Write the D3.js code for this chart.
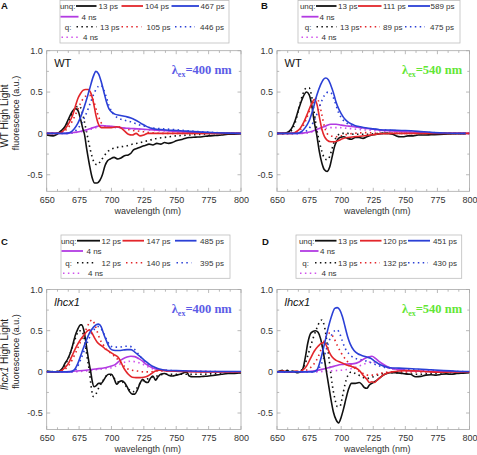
<!DOCTYPE html>
<html><head><meta charset="utf-8">
<script src="https://cdn.jsdelivr.net/npm/d3@7"></script>
<style>body{margin:0;background:#fff}svg{display:block}</style>
</head><body>
<svg id="c" width="477" height="455"></svg>
<script>
// ---------------- DATA ----------------
const xTicks = [650, 675, 700, 725, 750, 775, 800];
const yTicks = [-0.5, 0, 0.5, 1.0];
const panelIds = ["A", "B", "C", "D"];
const A_unq_labels = ["13 ps", "104 ps", "467 ps", "4 ns"];
const A_q_labels = ["13 ps", "105 ps", "446 ps", "4 ns"];
const B_unq_labels = ["13 ps", "111 ps", "589 ps", "4 ns"];
const B_q_labels = ["13 ps", "89 ps", "475 ps", "4 ns"];
const C_unq_labels = ["12 ps", "147 ps", "485 ps", "4 ns"];
const C_q_labels = ["12 ps", "140 ps", "395 ps", "4 ns"];
const D_unq_labels = ["13 ps", "120 ps", "451 ps", "4 ns"];
const D_q_labels = ["13 ps", "132 ps", "430 ps", "4 ns"];

// Panel A (WT, 400 nm)
const A_unq_13 = [[650,-0.02],[655,-0.03],[658,-0.01],[661,0.03],[664,0.08],[667,0.18],[670,0.27],[672,0.30],[674,0.28],[676,0.18],[678,0.05],[679,0],[681,-0.2],[683,-0.38],[685,-0.53],[687,-0.6],[689,-0.6],[691,-0.57],[693,-0.5],[695,-0.39],[697,-0.33],[699,-0.31],[702,-0.29],[705,-0.31],[707,-0.3],[710,-0.27],[713,-0.26],[715,-0.24],[717,-0.2],[720,-0.18],[723,-0.16],[726,-0.145],[729,-0.13],[732,-0.14],[735,-0.12],[738,-0.13],[741,-0.11],[744,-0.12],[747,-0.11],[750,-0.09],[755,-0.07],[760,-0.05],[765,-0.045],[770,-0.04],[775,-0.03],[780,-0.025],[785,-0.02],[790,-0.01],[795,-0.01],[800,-0.005]];
const A_q_13 = [[650,0],[660,0.01],[664,0.05],[667,0.14],[670,0.25],[673,0.32],[675,0.33],[677,0.28],[679,0.15],[681,0.0],[683,-0.15],[685,-0.28],[687,-0.36],[689,-0.38],[691,-0.35],[694,-0.28],[697,-0.22],[700,-0.19],[704,-0.17],[708,-0.16],[712,-0.15],[716,-0.13],[720,-0.12],[725,-0.1],[730,-0.08],[735,-0.06],[740,-0.05],[750,-0.03],[760,-0.02],[770,-0.01],[785,0],[800,0]];
const A_unq_104 = [[650,0],[658,0],[661,0.01],[664,0.05],[667,0.12],[670,0.22],[672,0.32],[674,0.42],[676,0.48],[678,0.52],[680,0.53],[682,0.53],[684,0.49],[686,0.38],[688,0.22],[690,0.11],[692,0.07],[695,0.07],[700,0.07],[704,0.08],[707,0.07],[710,0.03],[713,-0.01],[716,-0.02],[719,0.0],[722,-0.03],[725,-0.02],[728,0.0],[732,0.0],[740,0.0],[760,0],[800,0]];
const A_q_105 = [[650,0],[660,0],[664,0.03],[668,0.1],[672,0.22],[676,0.36],[680,0.45],[683,0.46],[686,0.4],[689,0.25],[692,0.13],[695,0.09],[700,0.08],[705,0.08],[710,0.06],[715,0.04],[720,0.03],[725,0.02],[730,0.01],[740,0.0],[800,0]];
const A_unq_467 = [[650,0],[665,0],[668,0.01],[671,0.05],[674,0.12],[677,0.23],[680,0.37],[683,0.53],[686,0.69],[688,0.75],[690,0.72],[692,0.63],[694,0.51],[696,0.39],[698,0.3],[700,0.26],[703,0.23],[706,0.22],[709,0.21],[712,0.2],[715,0.185],[718,0.165],[721,0.14],[724,0.11],[727,0.085],[730,0.065],[735,0.05],[740,0.045],[745,0.038],[750,0.035],[755,0.03],[760,0.025],[770,0.015],[780,0.008],[790,0.003],[800,0]];
const A_q_446 = [[650,0],[668,0],[672,0.03],[676,0.1],[680,0.22],[684,0.38],[687,0.5],[690,0.57],[692,0.58],[694,0.53],[696,0.44],[698,0.34],[700,0.27],[703,0.21],[706,0.18],[710,0.16],[715,0.14],[720,0.11],[725,0.09],[730,0.07],[740,0.055],[750,0.045],[760,0.03],[770,0.02],[780,0.01],[800,0]];
const A_unq_4ns = [[650,0],[665,0],[670,0.01],[675,0.02],[680,0.04],[684,0.06],[688,0.08],[692,0.095],[696,0.09],[700,0.085],[705,0.075],[710,0.065],[715,0.06],[720,0.055],[725,0.05],[730,0.045],[735,0.04],[740,0.035],[745,0.03],[750,0.025],[760,0.015],[770,0.01],[780,0.005],[800,0]];
const A_q_4ns = [[650,0],[670,0.01],[680,0.03],[686,0.06],[692,0.08],[700,0.075],[710,0.06],[720,0.05],[730,0.04],[740,0.03],[750,0.02],[760,0.012],[775,0.005],[800,0]];

// Panel B (WT, 540 nm)
const B_unq_13 = [[650,0],[655,0],[658,0.01],[661,0.05],[664,0.15],[667,0.3],[670,0.43],[673,0.5],[675,0.47],[677,0.35],[679,0.14],[681,-0.02],[683,-0.22],[685,-0.36],[687,-0.44],[689,-0.46],[691,-0.41],[693,-0.28],[695,-0.15],[697,-0.08],[699,-0.05],[702,-0.04],[705,-0.06],[708,-0.07],[711,-0.05],[714,-0.05],[717,-0.06],[720,-0.04],[724,-0.02],[728,-0.01],[732,0.0],[736,0.0],[740,-0.01],[743,-0.03],[746,-0.04],[749,-0.04],[752,-0.03],[756,-0.03],[760,-0.02],[765,-0.02],[770,-0.015],[780,-0.01],[790,-0.005],[797,-0.005]];
const B_q_13 = [[650,0],[658,0],[661,0.03],[664,0.12],[667,0.3],[670,0.47],[673,0.55],[675,0.55],[677,0.45],[679,0.25],[681,0.05],[683,-0.1],[685,-0.22],[687,-0.3],[689,-0.32],[691,-0.28],[693,-0.18],[695,-0.08],[697,-0.03],[700,0.0],[705,0.0],[710,-0.01],[720,-0.01],[730,0],[800,0]];
const B_unq_111 = [[650,0],[662,0],[665,0.02],[668,0.06],[671,0.14],[674,0.25],[677,0.36],[679,0.41],[681,0.36],[683,0.2],[685,0.05],[687,-0.04],[689,-0.08],[692,-0.1],[695,-0.1],[698,-0.085],[701,-0.065],[705,-0.05],[710,-0.04],[715,-0.035],[720,-0.025],[725,-0.015],[730,-0.005],[740,0],[800,0]];
const B_q_89 = [[650,0],[664,0],[667,0.03],[670,0.08],[673,0.18],[676,0.3],[679,0.4],[681,0.43],[683,0.36],[685,0.22],[687,0.08],[689,0.0],[692,-0.03],[696,-0.04],[700,-0.03],[705,-0.01],[710,0.0],[720,0.01],[730,0.0],[800,0]];
const B_unq_589 = [[650,0],[666,0],[669,0.02],[672,0.07],[675,0.15],[678,0.29],[681,0.46],[684,0.59],[686,0.65],[688,0.67],[690,0.65],[692,0.58],[694,0.49],[696,0.38],[698,0.3],[700,0.24],[703,0.17],[706,0.13],[710,0.1],[715,0.08],[720,0.065],[725,0.055],[730,0.045],[740,0.04],[750,0.035],[760,0.025],[770,0.012],[780,0.005],[797,0]];
const B_q_475 = [[650,0],[668,0],[672,0.02],[676,0.08],[680,0.19],[684,0.36],[687,0.46],[690,0.5],[692,0.49],[694,0.43],[696,0.34],[698,0.25],[700,0.19],[703,0.14],[706,0.11],[710,0.09],[715,0.07],[720,0.06],[730,0.045],[740,0.035],[750,0.025],[760,0.015],[770,0.01],[785,0.005],[800,0]];
const B_unq_4ns = [[650,0],[668,0],[673,0.01],[678,0.03],[683,0.06],[688,0.09],[692,0.11],[696,0.11],[700,0.1],[705,0.09],[710,0.08],[715,0.07],[720,0.06],[725,0.05],[730,0.04],[740,0.03],[750,0.02],[760,0.012],[770,0.006],[785,0.002],[800,0]];
const B_q_4ns = [[650,0],[670,0],[678,0.02],[685,0.05],[692,0.07],[698,0.07],[705,0.06],[712,0.05],[720,0.04],[730,0.03],[740,0.02],[755,0.01],[770,0.005],[800,0]];

// Panel C (lhcx1, 400 nm)
const C_unq_12 = [[650,0.01],[655,0.0],[658,0.0],[660,0.01],[662,0.04],[664,0.1],[666,0.15],[668,0.22],[670,0.32],[672,0.44],[674,0.52],[676,0.57],[677,0.57],[679,0.48],[681,0.28],[683,0.08],[684,0.0],[685,-0.1],[686.5,-0.18],[688,-0.17],[690,-0.14],[692,-0.14],[694,-0.1],[696,-0.05],[698,-0.03],[700,-0.03],[702,-0.08],[704,-0.15],[706,-0.12],[708,-0.11],[710,-0.13],[712,-0.18],[714,-0.24],[716,-0.27],[718,-0.27],[720,-0.22],[722,-0.14],[724,-0.09],[726,-0.12],[728,-0.13],[730,-0.08],[732,-0.05],[734,-0.1],[736,-0.06],[738,-0.03],[741,-0.02],[744,-0.04],[747,-0.05],[750,-0.04],[753,-0.03],[756,-0.01],[758,0.0],[760,-0.05],[763,-0.06],[767,-0.06],[771,-0.055],[775,-0.05],[780,-0.04],[785,-0.03],[790,-0.02],[795,-0.02],[800,-0.01]];
const C_q_12 = [[650,0],[660,0.01],[663,0.05],[666,0.14],[669,0.26],[672,0.4],[675,0.5],[677,0.5],[679,0.4],[681,0.2],[683,0.0],[684.5,-0.2],[686,-0.3],[688,-0.27],[690,-0.2],[693,-0.12],[696,-0.05],[699,-0.04],[702,-0.08],[705,-0.12],[708,-0.12],[711,-0.17],[714,-0.22],[717,-0.24],[720,-0.19],[723,-0.12],[726,-0.1],[730,-0.07],[735,-0.05],[740,-0.03],[750,-0.03],[760,-0.03],[770,-0.03],[780,-0.02],[790,-0.01],[800,-0.01]];
const C_unq_147 = [[650,0],[658,0],[661,0.01],[664,0.05],[667,0.11],[670,0.21],[673,0.31],[676,0.39],[679,0.45],[681,0.49],[683,0.51],[685,0.47],[687,0.41],[689,0.36],[691,0.33],[693,0.31],[695,0.28],[697,0.26],[699,0.24],[702,0.21],[705,0.18],[707,0.13],[709,0.06],[711,0.01],[713,-0.03],[716,-0.065],[719,-0.07],[722,-0.07],[725,-0.065],[728,-0.05],[731,-0.02],[734,0.01],[737,0.02],[741,0.015],[746,0.01],[755,0.005],[770,0],[800,0]];
const C_q_140 = [[650,0],[660,0],[664,0.03],[668,0.1],[672,0.22],[676,0.36],[680,0.5],[683,0.6],[685,0.63],[687,0.58],[689,0.49],[691,0.4],[694,0.32],[697,0.26],[700,0.22],[703,0.18],[706,0.13],[709,0.08],[712,0.04],[716,0.02],[720,0.01],[725,0.0],[730,0.0],[735,0.01],[745,0.01],[760,0.005],[800,0]];
const C_unq_485 = [[650,0],[668,0],[671,0.02],[674,0.1],[677,0.23],[680,0.36],[683,0.47],[686,0.54],[688,0.57],[690,0.58],[692,0.55],[694,0.46],[696,0.38],[698,0.31],[700,0.27],[703,0.26],[706,0.26],[709,0.265],[712,0.27],[715,0.27],[718,0.24],[721,0.2],[724,0.16],[727,0.12],[730,0.085],[733,0.06],[737,0.035],[742,0.02],[750,0.015],[760,0.01],[780,0.005],[800,0.005]];
const C_q_395 = [[650,0],[670,0],[673,0.04],[676,0.14],[680,0.3],[684,0.45],[687,0.52],[690,0.55],[693,0.5],[696,0.4],[699,0.32],[702,0.3],[706,0.3],[710,0.31],[714,0.31],[718,0.27],[722,0.19],[726,0.12],[730,0.07],[735,0.04],[742,0.02],[755,0.01],[800,0]];
const C_unq_4ns = [[650,0],[665,0],[672,0.01],[680,0.02],[688,0.035],[695,0.05],[700,0.07],[703,0.09],[706,0.13],[709,0.16],[712,0.18],[715,0.19],[718,0.185],[721,0.16],[724,0.13],[727,0.09],[730,0.06],[734,0.035],[740,0.02],[750,0.01],[765,0.005],[800,0]];
const C_q_4ns = [[650,0],[670,0],[680,0.01],[690,0.03],[700,0.05],[706,0.09],[711,0.12],[715,0.13],[719,0.12],[723,0.1],[727,0.07],[731,0.04],[737,0.02],[745,0.01],[760,0.005],[800,0]];

// Panel D (lhcx1, 540 nm)
const D_unq_13 = [[650,0.0],[652,0.01],[654,0.02],[656,0.0],[658,0.02],[660,0.0],[662,0.01],[664,0.0],[666,-0.01],[668,0.0],[670,0.03],[672,0.17],[674,0.35],[676,0.46],[678,0.49],[680,0.5],[682,0.48],[684,0.4],[686,0.25],[688,0.05],[690,-0.14],[692,-0.33],[694,-0.49],[696,-0.58],[698,-0.62],[700,-0.55],[702,-0.44],[704,-0.31],[706,-0.2],[708,-0.14],[711,-0.14],[714,-0.13],[716,-0.15],[718,-0.19],[720,-0.2],[722,-0.16],[725,-0.13],[728,-0.1],[731,-0.06],[734,-0.03],[738,-0.01],[742,-0.01],[746,-0.015],[750,-0.025],[754,-0.03],[758,-0.06],[762,-0.055],[766,-0.04],[770,-0.035],[774,-0.04],[778,-0.03],[782,-0.025],[786,-0.03],[790,-0.02],[795,-0.015],[800,-0.01]];
const D_q_13 = [[650,0],[665,0],[669,0.02],[672,0.1],[675,0.25],[678,0.4],[681,0.53],[683,0.6],[685,0.63],[687,0.55],[689,0.35],[691,0.1],[693,-0.15],[695,-0.32],[697,-0.42],[699,-0.42],[701,-0.3],[703,-0.15],[705,-0.05],[708,0.0],[711,-0.02],[715,-0.05],[720,-0.08],[725,-0.06],[730,-0.03],[740,-0.01],[750,-0.02],[760,-0.03],[770,-0.02],[785,-0.01],[800,0]];
const D_unq_120 = [[650,0],[655,0.01],[660,-0.005],[665,0.01],[668,0.0],[670,0.02],[673,0.07],[676,0.16],[679,0.25],[682,0.31],[685,0.35],[687,0.355],[689,0.3],[691,0.23],[693,0.18],[696,0.14],[699,0.12],[702,0.1],[705,0.08],[708,0.065],[711,0.05],[714,0.02],[717,-0.04],[720,-0.09],[722,-0.13],[724,-0.12],[726,-0.13],[728,-0.1],[731,-0.06],[735,-0.02],[740,0],[745,0.01],[750,0.015],[760,0.01],[770,0.0],[780,-0.005],[790,0],[800,0]];
const D_q_132 = [[650,0],[670,0],[674,0.03],[678,0.08],[682,0.18],[685,0.3],[688,0.42],[691,0.47],[694,0.42],[697,0.32],[700,0.23],[704,0.14],[708,0.08],[712,0.03],[716,-0.01],[720,-0.04],[725,-0.04],[730,-0.02],[740,0],[800,0]];
const D_unq_451 = [[650,0],[678,0],[681,0.02],[684,0.15],[687,0.34],[690,0.54],[693,0.7],[695,0.77],[697,0.78],[699,0.75],[701,0.67],[703,0.55],[705,0.43],[707,0.34],[710,0.26],[713,0.22],[716,0.2],[720,0.18],[723,0.165],[726,0.13],[729,0.1],[733,0.07],[738,0.05],[745,0.045],[752,0.04],[760,0.035],[770,0.025],[780,0.015],[790,0.008],[800,0.005]];
const D_q_430 = [[650,0],[680,0],[683,0.05],[686,0.15],[689,0.3],[692,0.43],[695,0.5],[697,0.51],[699,0.46],[701,0.37],[703,0.29],[706,0.22],[710,0.17],[715,0.15],[720,0.13],[725,0.1],[730,0.07],[738,0.045],[750,0.03],[765,0.02],[780,0.01],[800,0]];
const D_unq_4ns = [[650,0],[670,0],[678,0.01],[685,0.03],[690,0.05],[695,0.07],[700,0.09],[705,0.095],[710,0.1],[714,0.12],[718,0.16],[721,0.18],[724,0.19],[727,0.16],[730,0.12],[734,0.08],[738,0.05],[744,0.03],[750,0.02],[760,0.01],[775,0.005],[800,0]];
const D_q_4ns = [[650,0],[680,0],[690,0.01],[700,0.02],[708,0.04],[714,0.07],[719,0.1],[723,0.12],[727,0.11],[731,0.08],[736,0.05],[742,0.03],[750,0.015],[765,0.005],[800,0]];

// ---------------- LAYOUT / STYLE ----------------
const COL = ["#111111", "#e3262b", "#2b40d6", "#b23be2"];
const QCOL = ["#111111", "#e3262b", "#2b40d6", "#d052ec"];
const panels = [
  {id:"A", l:46.7, r:241, t:50.7, b:191.3, unq:[A_unq_13,A_unq_104,A_unq_467,A_unq_4ns], q:[A_q_13,A_q_105,A_q_446,A_q_4ns],
   unqL:A_unq_labels, qL:A_q_labels, strain:"WT", exc:"400", excCol:"#5c5ce6", ylab:true, lab:[1,9],
   box:[60,0.5,229,43], rows:[6,16.7,26.7,37.3], qX:71.5,
   r1:[[76,96.5,98.5],[121.5,143,145],[171.5,199,200.5]], r2:[60.5,78.5,81.5], r3:[[76.5,96.5,100],[121.5,141.5,146.5],[175,195,200]], r4:[61.5,78.5,83]},
  {id:"B", l:277, r:469.5, t:50.7, b:191.3, unq:[B_unq_13,B_unq_111,B_unq_589,B_unq_4ns], q:[B_q_13,B_q_89,B_q_475,B_q_4ns],
   unqL:B_unq_labels, qL:B_q_labels, strain:"WT", exc:"540", excCol:"#62e635", ylab:false, lab:[261,9],
   box:[298,0.5,460,43], rows:[6,16.7,26.7,37.3], qX:311.5,
   r1:[[316,336.5,338],[358,381.5,383],[408,430,430.5]], r2:[301.5,318.5,319.5], r3:[[316.5,336.5,340],[360,380,383],[405,425,430]], r4:[301.5,318.5,321.5]},
  {id:"C", l:46.7, r:241, t:289.5, b:429.5, unq:[C_unq_12,C_unq_147,C_unq_485,C_unq_4ns], q:[C_q_12,C_q_140,C_q_395,C_q_4ns],
   unqL:C_unq_labels, qL:C_q_labels, strain:"lhcx1", exc:"400", excCol:"#5c5ce6", ylab:true, lab:[1,245],
   box:[61,235,230,278.3], rows:[240.7,251,262.7,273.3], qX:72,
   r1:[[77,100,101.5],[122.5,144,146.5],[175,196.5,200]], r2:[61.5,83,86.5], r3:[[77,96.5,101.5],[126,142.5,146.5],[176.5,191.5,200]], r4:[63,81.5,88]},
  {id:"D", l:277, r:469.5, t:289.5, b:429.5, unq:[D_unq_13,D_unq_120,D_unq_451,D_unq_4ns], q:[D_q_13,D_q_132,D_q_430,D_q_4ns],
   unqL:D_unq_labels, qL:D_q_labels, strain:"lhcx1", exc:"540", excCol:"#62e635", ylab:false, lab:[262,245],
   box:[296,235,461.7,278.3], rows:[240.7,251,262.7,273.3], qX:309,
   r1:[[315,336.5,338],[360,381.5,383],[408,430,433]], r2:[300,318.5,320], r3:[[315,336.5,338],[360,380,383],[408,428,433]], r4:[300,318.5,321.5]}
];

const svg = d3.select("#c");
const FONT = "Liberation Sans, Arial, sans-serif";
const AX = "#a8a8a8";
const DOT = "1.5,3.4";

panels.forEach(p => {
  const g = svg.append("g");
  const x = d3.scaleLinear().domain([650, 800]).range([p.l, p.r]);
  const y = d3.scaleLinear().domain([-0.7, 1.0]).range([p.b, p.t]);

  // frame
  g.append("rect").attr("x", p.l).attr("y", p.t).attr("width", p.r - p.l).attr("height", p.b - p.t)
    .attr("fill", "none").attr("stroke", AX).attr("stroke-width", 0.8);

  // ticks (inward) on all sides
  const xMinor = d3.range(650, 800.01, 25 / 3);
  const yMinor = d3.range(-0.5, 1.001, 0.25);
  const tk = g.append("g").attr("stroke", AX).attr("stroke-width", 0.8);
  xMinor.forEach((v, i) => {
    const len = (i % 3 === 0) ? 3.5 : 2.2;
    tk.append("line").attr("x1", x(v)).attr("x2", x(v)).attr("y1", p.b).attr("y2", p.b - len);
    tk.append("line").attr("x1", x(v)).attr("x2", x(v)).attr("y1", p.t).attr("y2", p.t + len);
  });
  yMinor.forEach((v, i) => {
    const len = (i % 2 === 0) ? 3.5 : 2.2;
    tk.append("line").attr("x1", p.l).attr("x2", p.l + len).attr("y1", y(v)).attr("y2", y(v));
    tk.append("line").attr("x1", p.r).attr("x2", p.r - len).attr("y1", y(v)).attr("y2", y(v));
  });

  // tick labels via axis generators (domain hidden)
  const xa = g.append("g").attr("transform", `translate(0,${p.b})`)
    .call(d3.axisBottom(x).tickValues(xTicks).tickSize(0).tickPadding(5).tickFormat(d3.format("d")));
  const ya = g.append("g").attr("transform", `translate(${p.l},0)`)
    .call(d3.axisLeft(y).tickValues(yTicks).tickSize(0).tickPadding(4)
      .tickFormat(d => d === 0 ? "0" : (d === 1 ? "1.0" : d3.format(".1f")(d).replace("\u2212", "-"))));
  [xa, ya].forEach(a => {
    a.select(".domain").remove();
    a.selectAll("text").attr("fill", "#333").style("font-family", FONT).style("font-size", "9px");
  });

  // x label
  g.append("text").attr("x", (p.l + p.r) / 2 + 4).attr("y", p.b + 22.5).attr("text-anchor", "middle")
    .style("font-family", FONT).style("font-size", "9px").attr("fill", "#333").text("wavelength (nm)");

  // y label
  if (p.ylab) {
    const cy = (p.t + p.b) / 2 - 5;
    const t1 = g.append("text").attr("transform", `translate(8,${cy}) rotate(-90)`).attr("text-anchor", "middle")
      .style("font-family", FONT).style("font-size", "10px").attr("fill", "#222");
    if (p.strain === "WT") t1.text("WT High Light");
    else { t1.append("tspan").style("font-style", "italic").text("lhcx1"); t1.append("tspan").text(" High Light"); }
    g.append("text").attr("transform", `translate(19,${cy - 3}) rotate(-90)`).attr("text-anchor", "middle")
      .style("font-family", FONT).style("font-size", "9px").attr("fill", "#222").text("fluorescence (a.u.)");
  }

  // curves
  const line = d3.line().x(d => x(d[0])).y(d => y(d[1])).curve(d3.curveMonotoneX);
  const clipId = "clip" + p.id;
  g.append("clipPath").attr("id", clipId).append("rect")
    .attr("x", p.l).attr("y", p.t).attr("width", p.r - p.l).attr("height", p.b - p.t);
  const cg = g.append("g").attr("clip-path", `url(#${clipId})`);
  p.q.forEach((s, i) => {
    cg.append("path").datum(s).attr("d", line).attr("fill", "none").attr("stroke", QCOL[i])
      .attr("stroke-width", 1.6).attr("stroke-dasharray", DOT);
  });
  [3, 0, 1, 2].forEach(i => {
    cg.append("path").datum(p.unq[i]).attr("d", line).attr("fill", "none").attr("stroke", COL[i])
      .attr("stroke-width", 1.6).attr("stroke-linejoin", "round");
  });

  // in-plot annotations
  const st = g.append("text").attr("x", p.l + 7.5).attr("y", p.t + 16).style("font-family", FONT)
    .style("font-size", "11px").attr("fill", "#111").text(p.strain);
  if (p.strain !== "WT") st.style("font-style", "italic");
  const ex = g.append("text").attr("x", p.l + 125).attr("y", p.t + 23)
    .style("font-family", "Liberation Serif, Times New Roman, serif").style("font-weight", "bold")
    .style("font-size", "12.5px").attr("fill", p.excCol);
  ex.append("tspan").text("\u03bb");
  ex.append("tspan").attr("dy", 3).style("font-size", "8px").text("ex");
  ex.append("tspan").attr("dy", -3).text("=" + p.exc + " nm");

  // panel letter
  g.append("text").attr("x", p.lab[0]).attr("y", p.lab[1]).style("font-family", FONT)
    .style("font-weight", "bold").style("font-size", "9.5px").attr("fill", "#111").text(p.id);

  // legend
  const lg = g.append("g");
  lg.append("rect").attr("x", p.box[0]).attr("y", p.box[1]).attr("width", p.box[2] - p.box[0])
    .attr("height", p.box[3] - p.box[1]).attr("fill", "#fff").attr("stroke", "#bdbdbd").attr("stroke-width", 0.8);
  const txt = (xx, yy, s, anchor) => lg.append("text").attr("x", xx).attr("y", yy + 3)
    .attr("text-anchor", anchor || "start").style("font-family", FONT)
    .style("font-size", "8px").attr("fill", "#333").text(s);
  const seg = (x1, x2, yy, c, dotted) => {
    const l = lg.append("line").attr("x1", x1).attr("x2", x2).attr("y1", yy).attr("y2", yy).attr("stroke", c);
    if (dotted) l.attr("stroke-width", 1.6).attr("stroke-dasharray", DOT);
    else l.attr("stroke-width", 1.8);
  };
  txt(p.r1[0][0] - 0.5, p.rows[0], "unq:", "end");
  p.r1.forEach((it, i) => { seg(it[0], it[1], p.rows[0], COL[i], false); txt(it[2], p.rows[0], p.unqL[i]); });
  seg(p.r2[0], p.r2[1], p.rows[1], COL[3], false); txt(p.r2[2], p.rows[1], p.unqL[3]);
  txt(p.qX, p.rows[2], "q:", "end");
  p.r3.forEach((it, i) => { seg(it[0], it[1], p.rows[2], QCOL[i], true); txt(it[2], p.rows[2], p.qL[i]); });
  seg(p.r4[0], p.r4[1], p.rows[3], QCOL[3], true); txt(p.r4[2], p.rows[3], p.qL[3]);
});
</script>
</body></html>
